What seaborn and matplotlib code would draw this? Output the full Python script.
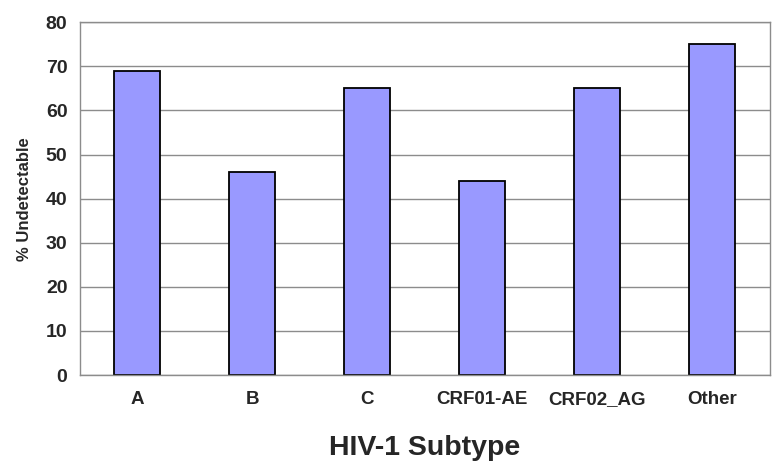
import numpy as np
import pandas as pd
import matplotlib
matplotlib.use("Agg")
import matplotlib.pyplot as plt
import seaborn as sns

# Data
subtypes = ["A", "B", "C", "CRF01-AE", "CRF02_AG", "Other"]
pct_undetectable = [69, 46, 65, 44, 65, 75]

df = pd.DataFrame({"Subtype": subtypes, "Undetectable": pct_undetectable})

sns.set_style("white")
plt.rcParams["font.family"] = ["Liberation Sans", "DejaVu Sans"]

fig = plt.figure(figsize=(7.84, 4.63), dpi=100)
ax = fig.add_axes([0.102, 0.190, 0.880, 0.762])

sns.barplot(data=df, x="Subtype", y="Undetectable", color="#9999FF",
            edgecolor="black", linewidth=1.3, width=0.4, saturation=1, ax=ax)

ax.set_ylim(0, 80)
ax.set_xlim(-0.5, len(subtypes) - 0.5)
ax.set_yticks(np.arange(0, 81, 10))
ax.yaxis.grid(True, color="#8c8c8c", linewidth=1)
ax.set_axisbelow(True)

# labels sit on a common baseline (underscore would push CRF02_AG down otherwise)
ax.set_xticks(range(len(subtypes)), subtypes, va="baseline",
              fontsize=13.5, fontweight="bold")
# category boundary ticks on the x axis
ax.set_xticks(np.arange(-0.5, len(subtypes), 1), minor=True)
ax.tick_params(axis="x", which="major", length=0, pad=21)
ax.tick_params(axis="x", which="minor", length=5, color="#8c8c8c", width=1, direction="out")
ax.tick_params(axis="y", length=5, color="#8c8c8c", width=1, direction="out", labelsize=14, pad=4)
for lab in ax.get_yticklabels():
    lab.set_fontweight("bold")

for side in ["left", "bottom", "top", "right"]:
    ax.spines[side].set_visible(True)
    ax.spines[side].set_color("#8c8c8c")
    ax.spines[side].set_linewidth(1)

ax.set_ylabel("% Undetectable", fontsize=12, fontweight="bold", labelpad=10)
ax.set_xlabel("HIV-1 Subtype", fontsize=20.5, fontweight="bold", labelpad=19)

fig.savefig("out.png", dpi=100)
